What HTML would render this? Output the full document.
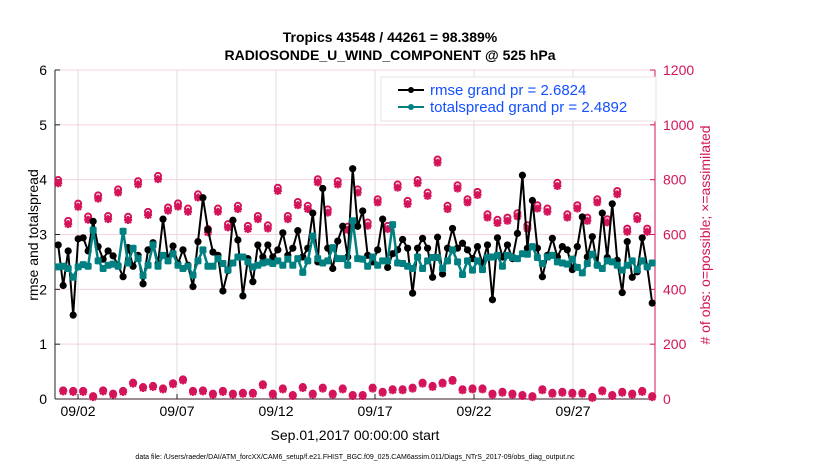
<!DOCTYPE html>
<html><head><meta charset="utf-8"><style>
body{margin:0;background:#fff}
svg{display:block;font-family:"Liberation Sans",sans-serif}
</style></head><body>
<svg id="chart" width="830" height="470" viewBox="0 0 830 470">
<text x="390" y="42" text-anchor="middle" font-size="14" font-weight="bold">Tropics 43548 / 44261 = 98.389%</text>
<text x="390" y="60" text-anchor="middle" font-size="14" font-weight="bold">RADIOSONDE_U_WIND_COMPONENT @ 525 hPa</text>
<g id="grid"></g>
<g id="axes"></g>
<g id="marks"></g>
<text transform="translate(38,235) rotate(-90)" text-anchor="middle" font-size="14">rmse and totalspread</text>
<text transform="translate(710,235) rotate(-90)" text-anchor="middle" font-size="14" fill="#d4145a"># of obs: o=possible; ×=assimilated</text>
<text x="355" y="440" text-anchor="middle" font-size="14">Sep.01,2017 00:00:00 start</text>
<text x="355" y="459" text-anchor="middle" font-size="7">data file: /Users/raeder/DAI/ATM_forcXX/CAM6_setup/f.e21.FHIST_BGC.f09_025.CAM6assim.011/Diags_NTrS_2017-09/obs_diag_output.nc</text>
<g>
<rect x="381" y="77" width="275" height="44" fill="#fff" stroke="#e8e0e4" stroke-width="1"/>
<line x1="398" y1="90" x2="424" y2="90" stroke="#000" stroke-width="2"/>
<circle cx="411" cy="90" r="3" fill="#000"/>
<text x="430" y="95" font-size="15" fill="#1450ff">rmse grand pr = 2.6824</text>
<line x1="398" y1="107" x2="424" y2="107" stroke="#008080" stroke-width="2"/>
<circle cx="411" cy="107" r="3" fill="#008080"/>
<text x="430" y="112" font-size="15" fill="#1450ff">totalspread grand pr = 2.4892</text>
</g>
</svg>
<script>
const rmse=[2.81,2.07,2.70,1.53,2.92,2.94,2.70,3.24,2.78,2.55,2.70,2.61,2.44,2.23,2.76,2.42,2.62,2.10,2.72,2.85,2.47,3.28,2.56,2.79,2.47,2.72,2.44,2.05,2.87,3.67,3.09,2.68,2.62,1.97,2.34,3.26,2.90,1.88,2.56,2.14,2.81,2.59,2.81,2.59,2.72,3.03,2.62,2.75,3.07,2.59,2.75,3.39,2.50,3.84,2.75,2.38,2.88,3.15,2.59,4.20,3.15,3.43,2.62,2.50,2.72,3.28,2.40,2.65,2.72,2.91,2.75,1.93,2.75,2.93,2.75,2.22,2.95,2.28,2.75,3.11,2.75,2.84,2.72,2.56,2.78,2.47,2.81,1.81,2.94,2.59,2.81,2.56,3.02,4.08,2.75,3.62,2.75,2.23,2.62,2.93,2.59,2.78,2.72,2.36,2.78,3.32,2.59,2.96,2.44,3.39,2.58,3.56,2.53,1.94,2.87,2.22,2.32,2.94,2.41,1.75];
const spread=[2.41,2.42,2.38,2.22,2.41,2.45,2.42,3.08,2.52,2.38,2.44,2.46,2.42,3.06,2.48,2.75,2.56,2.25,2.44,2.81,2.42,2.62,2.52,2.65,2.44,2.38,2.42,2.26,2.52,2.72,2.42,2.42,2.56,2.47,2.35,2.48,2.59,2.59,2.50,2.41,2.44,2.48,2.50,2.47,2.52,2.44,2.55,2.44,2.56,2.31,2.52,2.97,2.56,2.48,2.52,2.76,2.56,2.56,2.44,3.25,2.56,2.55,2.42,2.59,2.44,2.52,2.52,3.18,2.48,2.47,2.42,2.38,2.59,2.38,2.52,2.58,2.58,2.38,2.52,2.72,2.50,2.27,2.52,2.35,2.52,2.36,2.58,2.59,2.62,2.42,2.62,2.58,2.56,2.65,2.64,2.78,2.58,2.47,2.59,2.62,2.50,2.48,2.46,2.55,2.40,2.30,2.47,2.64,2.44,2.38,2.52,2.50,2.44,2.35,2.44,2.52,2.36,2.52,2.41,2.48];
const possibleHigh=[795,646,709,662,739,664,761,661,791,679,810,695,710,691,743,616,691,634,701,628,664,630,767,664,715,701,798,688,791,625,761,640,725,628,779,719,795,749,870,701,776,725,752,670,650,658,674,630,703,691,785,670,703,658,725,652,755,618,664,618];
const possibleLow=[28,26,26,7,28,16,26,56,40,44,35,54,68,26,28,16,26,16,19,19,50,16,35,11,40,16,38,16,35,11,11,38,23,32,32,38,56,44,56,66,32,35,35,16,23,16,11,7,32,19,23,19,19,4,28,11,23,16,26,7];
const usedOffset=[8];
const xTicks=["09/02","09/07","09/12","09/17","09/22","09/27"];
const xTickDays=[1,6,11,16,21,26];
const yTicksLeft=[0,1,2,3,4,5,6];
const yTicksRight=[0,200,400,600,800,1000,1200];

const NS="http://www.w3.org/2000/svg";
const L=55,R=655,T=70,B=399;
const xDay=d=>58.2+d*19.8;
const xIdx=i=>xDay(i*30/119);
const yL=v=>B-(v/6)*(B-T);
const yR=c=>B-(c/1200)*(B-T);
function mk(tag,attrs,parent){const e=document.createElementNS(NS,tag);for(const k in attrs)e.setAttribute(k,attrs[k]);parent.appendChild(e);return e;}
const grid=document.getElementById('grid'),axes=document.getElementById('axes'),marks=document.getElementById('marks');

yTicksLeft.forEach(v=>{if(v===0)return;const g=mk('line',{x1:L,x2:R,y1:yL(v),y2:yL(v),stroke:'#f5d3df','stroke-width':1},grid);

});
xTickDays.forEach(d=>{const g=mk('line',{x1:xDay(d),x2:xDay(d),y1:T,y2:B,stroke:'#dcdcdc','stroke-width':1},grid);

});

let a=mk('line',{x1:L,x2:L,y1:T,y2:B,stroke:'#222','stroke-width':1},axes);


a=mk('line',{x1:L,x2:R,y1:B,y2:B,stroke:'#3a1a28','stroke-width':1},axes);


a=mk('line',{x1:R,x2:R,y1:T,y2:B,stroke:'#d4145a','stroke-width':1},axes);


yTicksLeft.forEach(v=>{mk('line',{x1:L,x2:L+5,y1:yL(v),y2:yL(v),stroke:'#222'},axes);
const t=mk('text',{x:L-8,y:yL(v)+5,'text-anchor':'end','font-size':14},axes);t.textContent=v;

});
yTicksRight.forEach(c=>{mk('line',{x1:R-5,x2:R,y1:yR(c),y2:yR(c),stroke:'#d4145a'},axes);
const t=mk('text',{x:R+8,y:yR(c)+5,'font-size':14,fill:'#d4145a'},axes);t.textContent=c;

});
xTicks.forEach((s,k)=>{const x=xDay(xTickDays[k]);mk('line',{x1:x,x2:x,y1:B-5,y2:B,stroke:'#222'},axes);
const t=mk('text',{x:x,y:416,'text-anchor':'middle','font-size':14},axes);t.textContent=s;

});

// obs counts
function obsMark(x,c,off){
  const g=mk('g',{},marks);
  
  
  const yp=yR(c),yu=yR(c-off);
  mk('circle',{cx:x,cy:yp-1,r:3,fill:'none',stroke:'#d4145a','stroke-width':2},g);
  mk('path',{d:`M${x-4} ${yu}H${x+4}M${x} ${yu-4}V${yu+4}M${x-3} ${yu-3}L${x+3} ${yu+3}M${x-3} ${yu+3}L${x+3} ${yu-3}`,stroke:'#d4145a','stroke-width':2.2},g);
  mk('circle',{cx:x,cy:yu,r:2.6,fill:'#d4145a'},g);
}
possibleHigh.forEach((c,k)=>obsMark(xIdx(2*k),c,usedOffset[0]));
possibleLow.forEach((c,k)=>obsMark(xIdx(2*k+1),c,0));

function series(vals,color,name,sq,w){
  const p=mk('polyline',{points:vals.map((v,i)=>xIdx(i)+','+yL(v)).join(' '),fill:'none',stroke:color,'stroke-width':w,'stroke-linejoin':'round'},marks);
  
  
  vals.forEach((v,i)=>{let m;
    if(sq)m=mk('rect',{x:xIdx(i)-3.5,y:yL(v)-3.5,width:7,height:7,rx:1.5,fill:color},marks);
    else m=mk('circle',{cx:xIdx(i),cy:yL(v),r:3.6,fill:color},marks);
    
    });
}
series(rmse,'#000','rmse',false,2);
series(spread,'#008080','totalspread',true,2.5);
</script>
</body></html>
